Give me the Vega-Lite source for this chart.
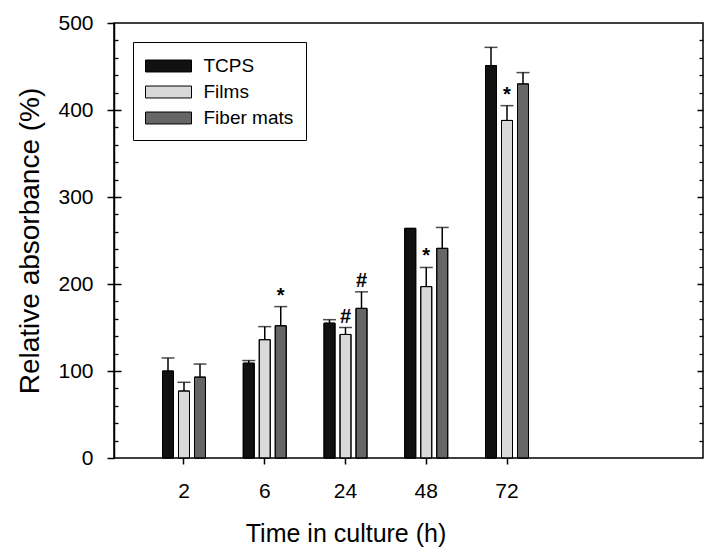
{
  "$schema": "https://vega.github.io/schema/vega-lite/v6.json",
  "autosize": "none",
  "width": 589,
  "height": 435,
  "padding": {"left": 114, "top": 23, "right": 2, "bottom": 89},
  "background": "white",
  "config": {
    "font": "Liberation Sans",
    "view": {"stroke": "black", "strokeWidth": 1.5},
    "axis": {"domainColor": "black", "tickColor": "black", "labelColor": "black", "titleColor": "black", "grid": false, "domainWidth": 1.5, "tickWidth": 1.5}
  },
  "data": {
    "values": [
      {"time": "2", "group": "TCPS", "mean": 100, "upper": 115, "sig": null},
      {"time": "2", "group": "Films", "mean": 77, "upper": 87, "sig": null},
      {"time": "2", "group": "Fiber mats", "mean": 93, "upper": 108, "sig": null},
      {"time": "6", "group": "TCPS", "mean": 109, "upper": 112, "sig": null},
      {"time": "6", "group": "Films", "mean": 136, "upper": 151, "sig": null},
      {"time": "6", "group": "Fiber mats", "mean": 152, "upper": 174, "sig": "*"},
      {"time": "24", "group": "TCPS", "mean": 155, "upper": 159, "sig": null},
      {"time": "24", "group": "Films", "mean": 142, "upper": 150, "sig": "#"},
      {"time": "24", "group": "Fiber mats", "mean": 172, "upper": 191, "sig": "#"},
      {"time": "48", "group": "TCPS", "mean": 264, "upper": null, "sig": null},
      {"time": "48", "group": "Films", "mean": 197, "upper": 219, "sig": "*"},
      {"time": "48", "group": "Fiber mats", "mean": 241, "upper": 265, "sig": null},
      {"time": "72", "group": "TCPS", "mean": 451, "upper": 472, "sig": null},
      {"time": "72", "group": "Films", "mean": 388, "upper": 405, "sig": "*"},
      {"time": "72", "group": "Fiber mats", "mean": 430, "upper": 443, "sig": null}
    ]
  },
  "encoding": {
    "x": {
      "field": "time", "type": "nominal",
      "scale": {"domain": ["2", "6", "24", "48", "72"], "range": [46, 417], "paddingInner": 0.4056, "paddingOuter": 0},
      "axis": {"title": "Time in culture (h)", "domain": false, "labelAngle": 0, "labelFontSize": 21, "labelBaseline": "alphabetic", "tickSize": 6, "labelPadding": 33, "titleFontSize": 25, "titleFontWeight": "normal", "titleX": 231.5, "titleY": 83, "titleBaseline": "alphabetic", "titleAnchor": "middle", "titleAlign": "center"}
    },
    "xOffset": {
      "field": "group", "type": "nominal",
      "scale": {"domain": ["TCPS", "Films", "Fiber mats"], "paddingInner": 0.3125, "paddingOuter": 0.15625}
    }
  },
  "layer": [
    {
      "mark": {"type": "bar", "stroke": "black", "strokeWidth": 1},
      "encoding": {
        "y": {
          "field": "mean", "type": "quantitative",
          "scale": {"domain": [0, 500], "nice": false},
          "axis": {"orient": "left", "values": [0, 100, 200, 300, 400, 500], "tickSize": 7, "labelPadding": 14, "labelFontSize": 21, "title": "Relative absorbance (%)", "titleFontSize": 28, "titleFontWeight": "normal", "titleX": -76, "titleY": 217.5, "titleAngle": -90, "titleBaseline": "alphabetic", "titleAlign": "center"}
        },
        "color": {
          "field": "group", "type": "nominal",
          "scale": {"domain": ["TCPS", "Films", "Fiber mats"], "range": ["#111111", "#d9d9d9", "#666666"]},
          "legend": {
            "title": null, "orient": "none", "legendX": 19, "legendY": 19,
            "strokeColor": "black", "padding": 12, "fillColor": "white",
            "symbolType": "M-2,-0.52H2V0.52H-2Z", "symbolSize": 529, "symbolStrokeColor": "black", "symbolStrokeWidth": 1, "symbolOpacity": 1,
            "symbolOffset": 11.5, "labelOffset": 23, "labelFontSize": 19, "labelColor": "black", "rowPadding": 4
          }
        }
      }
    },
    {
      "mark": {"type": "bar", "fillOpacity": 0, "stroke": "black", "strokeWidth": 1},
      "encoding": {
        "y": {
          "field": "mean", "type": "quantitative",
          "axis": {"orient": "right", "offset": -589, "values": [100, 200, 300, 400], "tickSize": 7, "labels": false, "domain": false, "title": null}
        }
      }
    },
    {
      "transform": [{"filter": "isValid(datum.upper)"}],
      "mark": {"type": "rule", "color": "black", "strokeWidth": 1.5},
      "encoding": {
        "y": {
          "field": "mean", "type": "quantitative",
          "axis": {"orient": "right", "offset": -589, "values": [20, 40, 60, 80, 120, 140, 160, 180, 220, 240, 260, 280, 320, 340, 360, 380, 420, 440, 460, 480], "tickSize": 4, "tickWidth": 1.3, "labels": false, "domain": false, "title": null}
        },
        "y2": {"field": "upper"}
      }
    },
    {
      "transform": [{"filter": "isValid(datum.upper)"}],
      "mark": {"type": "tick", "color": "black", "thickness": 1.5, "size": 13},
      "encoding": {
        "y": {
          "field": "upper", "type": "quantitative",
          "axis": {"orient": "left", "offset": -589, "values": [20, 40, 60, 80, 120, 140, 160, 180, 220, 240, 260, 280, 320, 340, 360, 380, 420, 440, 460, 480], "tickSize": 4, "tickWidth": 1.3, "labels": false, "domain": false, "title": null}
        }
      }
    },
    {
      "transform": [{"filter": "datum.sig != null"}],
      "mark": {"type": "text", "fontSize": 20, "fontWeight": "bold", "color": "black", "baseline": "alphabetic", "dy": -5},
      "encoding": {
        "y": {
          "field": "upper", "type": "quantitative",
          "axis": {"orient": "left", "offset": -589, "values": [100, 200, 300, 400], "tickSize": 6, "labels": false, "domain": false, "title": null}
        },
        "text": {"field": "sig"}
      }
    }
  ],
  "resolve": {"axis": {"y": "independent"}}
}
